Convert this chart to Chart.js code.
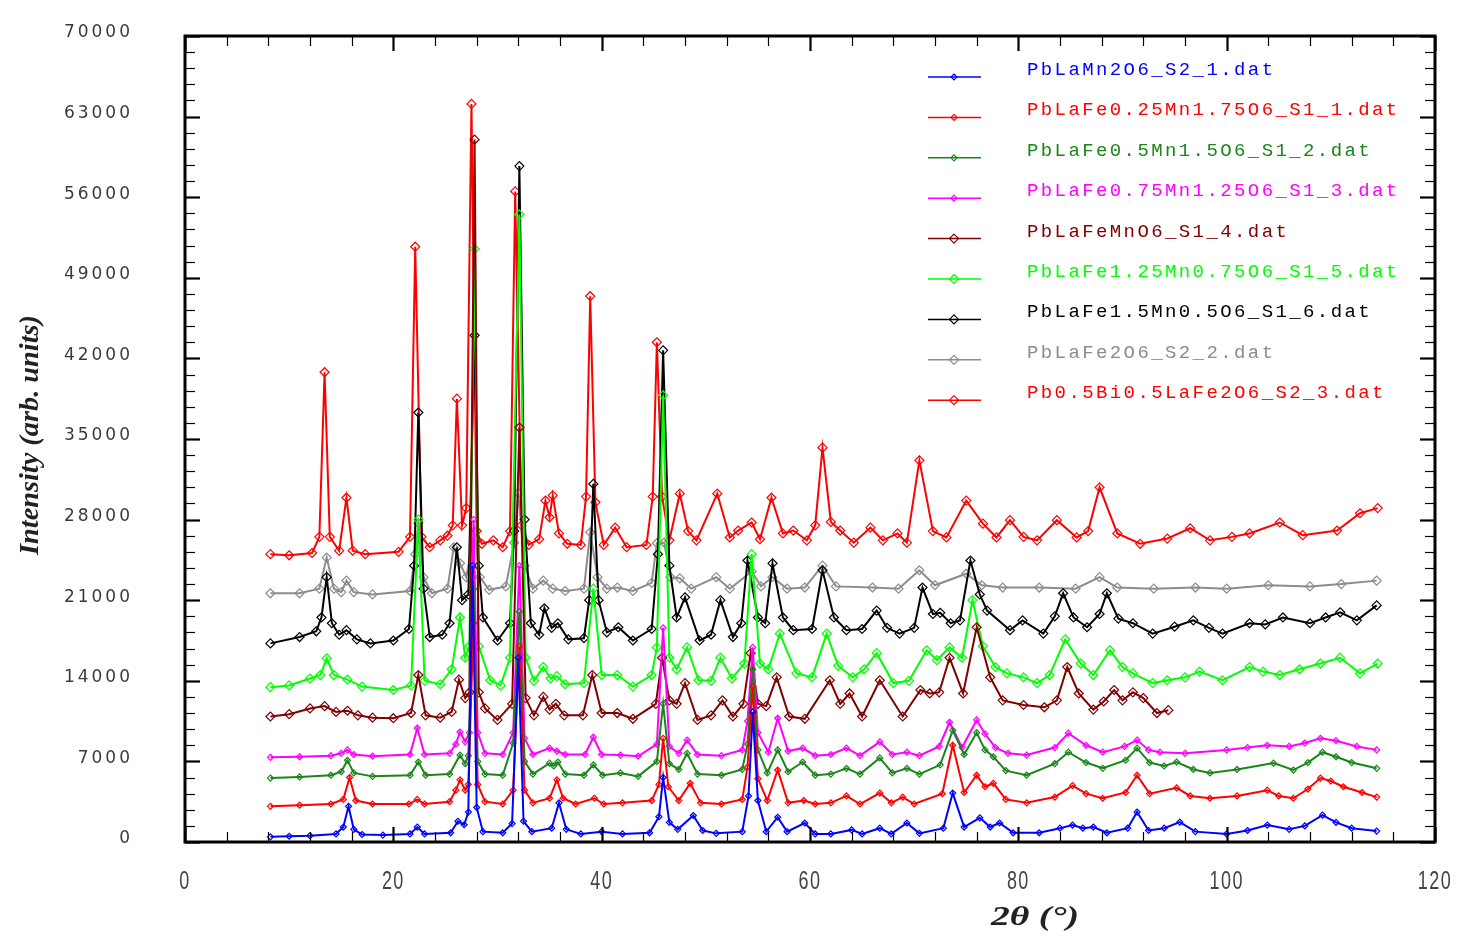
<!DOCTYPE html>
<html>
<head>
<meta charset="utf-8">
<script src="https://cdn.jsdelivr.net/npm/chart.js@4.4.1/dist/chart.umd.min.js"></script>
<style>
  html, body { margin: 0; padding: 0; background: #fff; }
  canvas { display: block; }
</style>
</head>
<body>
<canvas id="xrdChart" width="1459" height="944"></canvas>
<script>
// axis ticks
const xTicks = [0, 20, 40, 60, 80, 100, 120];
const yTicks = [0, 7000, 14000, 21000, 28000, 35000, 42000, 49000, 56000, 63000, 70000];

const seriesNames = [
    "PbLaMn2O6_S2_1.dat",
    "PbLaFe0.25Mn1.75O6_S1_1.dat",
    "PbLaFe0.5Mn1.5O6_S1_2.dat",
    "PbLaFe0.75Mn1.25O6_S1_3.dat",
    "PbLaFeMnO6_S1_4.dat",
    "PbLaFe1.25Mn0.75O6_S1_5.dat",
    "PbLaFe1.5Mn0.5O6_S1_6.dat",
    "PbLaFe2O6_S2_2.dat",
    "Pb0.5Bi0.5LaFe2O6_S2_3.dat"
];
const seriesColors = ["#0000ff", "#ff0000", "#1a861a", "#ff00ff", "#800000", "#00ff00", "#000000", "#8c8c8c", "#ff0000"];

// [2theta, intensity]
const mn2 = [[8.2,450],[10,500],[12,550],[14.5,700],[15.2,1300],[15.7,3100],[16.2,1100],[17,650],[19,600],[21.6,700],[22.3,1300],[23,700],[25.5,800],[26.2,1800],[26.8,1500],[27.2,2600],[27.6,24000],[28.0,3000],[28.6,900],[30.5,800],[31.4,1600],[32.0,16000],[32.5,1800],[33.3,900],[35.2,1200],[35.9,3400],[36.6,1100],[38,700],[40,900],[42,700],[44.6,800],[45.5,2200],[45.9,5600],[46.5,1700],[47.3,1100],[48.8,2300],[49.7,1000],[51,750],[53.5,900],[54.1,4000],[54.5,11300],[55.0,3600],[55.8,900],[56.9,2150],[57.8,900],[59.5,1650],[60.5,700],[62,700],[64.0,1050],[65,700],[66.7,1200],[67.8,700],[69.3,1650],[70.5,750],[72.8,1200],[73.7,4250],[74.8,1300],[76.3,2100],[77.3,1300],[78.2,1650],[79.5,800],[82,800],[84,1200],[85.2,1470],[86.2,1200],[87.2,1300],[88.5,800],[90.5,1200],[91.4,2600],[92.5,1000],[94,1200],[95.5,1730],[97,900],[100,700],[102,1000],[103.9,1470],[106,1100],[107.5,1400],[109.2,2340],[110.5,1700],[112,1200],[114.4,950]];

const fe025 = [[8.2,3100],[11,3200],[14,3300],[15.2,3700],[15.8,5600],[16.4,3600],[18,3300],[21.5,3300],[22.3,3700],[23,3300],[25.4,3500],[26.0,4500],[26.4,5400],[26.9,4500],[27.2,5000],[27.7,19000],[28.1,5000],[28.8,3500],[30.5,3300],[31.5,4500],[32.1,17000],[32.6,4500],[33.4,3400],[35.0,3800],[35.7,5400],[36.3,3800],[37.5,3300],[39.3,3800],[40.2,3300],[42,3400],[44.8,3600],[45.5,5000],[45.9,9000],[46.4,4800],[47.4,3600],[48.5,5100],[49.5,3400],[51.5,3300],[53.5,3700],[54.0,6500],[54.5,13500],[55.0,5500],[55.9,3600],[56.9,6250],[57.9,3400],[59.4,3600],[60.5,3300],[62,3400],[63.5,4000],[64.8,3300],[66.7,4250],[67.8,3400],[68.9,3900],[70,3300],[72.7,4200],[73.7,8400],[74.8,4300],[76.0,5800],[76.8,4800],[77.6,5100],[78.8,3700],[80.8,3400],[83.5,3900],[85.2,4900],[86.5,4200],[88.1,3800],[90.3,4300],[91.4,5800],[92.6,4200],[95.2,4700],[96.5,4000],[98.4,3800],[101,4000],[103.9,4500],[105,4000],[106.4,3800],[107.8,4600],[109,5550],[110,5300],[111.2,4800],[113,4300],[114.4,3900]];

const fe05 = [[8.2,5550],[11,5650],[14,5800],[15.0,6100],[15.6,7100],[16.2,6000],[18,5700],[21.6,5800],[22.4,6950],[23.1,5800],[25.4,5900],[26.4,7550],[26.9,6800],[27.2,7500],[27.7,22000],[28.1,7000],[28.8,5900],[30.5,5800],[31.5,8600],[32.1,20000],[32.6,7000],[33.4,5900],[35.0,6850],[35.4,6600],[35.8,6950],[36.5,5900],[38.3,5800],[39.2,6700],[40.1,5800],[41.8,6000],[43.5,5700],[45.3,7000],[45.9,12000],[46.5,6800],[47.4,6300],[48.2,7700],[49.2,5900],[51.5,5800],[53.5,6300],[54.0,8500],[54.5,15000],[55.0,8000],[55.9,6000],[56.9,8000],[57.9,6100],[59.3,6950],[60.5,5800],[62,5900],[63.5,6400],[64.8,5900],[66.7,7300],[67.9,6000],[69.3,6400],[70.5,5900],[72.5,6700],[73.7,9700],[74.8,7600],[76.0,9500],[76.8,8000],[77.6,7400],[78.8,6200],[80.8,5800],[83.5,6800],[84.8,7800],[86.5,6900],[88.1,6400],[90.3,7100],[91.4,8150],[92.6,6900],[94,6600],[95.2,6950],[96.8,6300],[98.4,6000],[101,6300],[104.5,6850],[106.4,6250],[107.8,6900],[109.2,7800],[110.5,7400],[112,6900],[114.4,6400]];

const fe075 = [[8.2,7350],[11,7400],[14,7500],[15.0,7700],[15.6,8000],[16.2,7600],[18,7450],[21.6,7600],[22.3,9900],[23.0,7600],[25.4,7700],[26.0,8500],[26.4,9550],[26.9,8700],[27.3,9500],[27.7,28000],[28.1,9500],[28.8,7700],[30.5,7600],[31.5,9500],[32.1,24000],[32.6,9000],[33.4,7600],[35.0,8150],[35.7,7900],[36.5,7600],[38.4,7600],[39.2,9100],[40.0,7600],[41.8,7550],[43.5,7450],[45.3,8500],[45.9,18600],[46.5,8300],[47.4,7700],[48.2,8850],[49.2,7600],[51.5,7500],[53.5,8000],[54.0,10500],[54.5,16900],[55.0,9500],[56.0,7800],[56.9,10750],[57.9,7900],[59.3,8150],[60.5,7500],[62,7600],[63.5,8150],[64.8,7500],[66.7,8700],[67.9,7600],[69.3,7800],[70.5,7500],[72.4,8300],[73.4,10400],[74.6,8200],[76.0,10600],[76.8,9400],[77.8,8200],[79,7700],[80.8,7550],[83.5,8200],[84.8,9450],[86.5,8400],[88.1,7800],[90.2,8300],[91.4,8850],[92.5,8000],[93.6,7800],[96,7700],[100,8000],[102,8200],[103.9,8400],[106,8300],[107.5,8600],[109,9000],[110.5,8800],[112.5,8300],[114.4,8000]];

const fe1 = [[8.2,10900],[10,11100],[12.0,11600],[13.4,11800],[14.5,11300],[15.6,11400],[16.6,11000],[18,10800],[20,10750],[21.7,11200],[22.4,14500],[23.1,11000],[24.5,10800],[25.6,11300],[26.3,14100],[26.9,12500],[27.3,13000],[27.8,61000],[28.2,13000],[28.8,11600],[30,10600],[31.4,12000],[32.1,36000],[32.7,12500],[33.5,11000],[34.4,12600],[35.0,11500],[35.6,12000],[36.4,11000],[38.2,11000],[39.1,14500],[40.0,11200],[41.5,11200],[43,10700],[45.2,12000],[45.8,16000],[46.5,12300],[47.2,12000],[48.0,13800],[49.2,10600],[50.5,11000],[51.6,12300],[52.6,10900],[53.6,12000],[54.3,16400],[55.0,12000],[55.8,11800],[56.8,14300],[58.0,10900],[59.5,10700],[61.9,14050],[62.9,12000],[63.8,12900],[65.0,10900],[66.7,14050],[68.9,10900],[70.6,13200],[71.5,12900],[72.4,13000],[73.4,16000],[74.7,12900],[76.0,18650],[77.3,14300],[78.5,12300],[80.5,11900],[82.5,11700],[83.7,12300],[84.7,15200],[85.8,12900],[87.2,11500],[88.2,12200],[89.2,13200],[90.0,12300],[91.0,13000],[92.0,12500],[93.3,11200],[94.4,11450]];

const fe125 = [[8.2,13450],[10,13600],[12,14200],[13.0,14500],[13.6,15950],[14.3,14500],[15.6,14100],[17,13500],[20,13200],[21.7,13600],[22.4,28000],[23.0,14000],[24.5,13700],[25.6,15000],[26.4,19500],[26.9,16000],[27.3,17000],[27.8,51500],[28.2,17000],[29.3,14050],[30.3,13600],[31.2,16000],[32.1,54500],[32.7,16000],[33.5,14000],[34.4,15200],[35.1,14200],[35.7,14400],[36.5,13700],[38.3,13800],[39.2,22000],[40.0,14500],[41.5,14500],[43,13500],[44.8,14500],[45.3,16900],[45.9,38800],[46.5,16000],[47.2,15000],[48.2,16900],[49.3,14050],[50.5,14000],[51.4,16000],[52.5,14200],[53.7,15500],[54.4,25000],[55.2,15500],[56.0,15000],[57.1,18100],[58.7,14650],[60.2,14300],[61.6,18100],[62.7,15300],[64.1,14300],[65.2,15000],[66.4,16400],[68.0,13800],[69.5,14000],[71.2,16650],[72.2,15800],[73.4,16900],[74.6,16000],[75.6,21000],[76.6,17000],[77.8,15200],[78.9,14650],[80.5,14300],[81.8,13800],[83,14500],[84.5,17600],[86.0,15500],[87.2,14500],[88.8,16650],[90.0,15200],[91.0,14650],[92.9,13800],[94.3,14050],[96,14300],[97.4,14800],[99.6,14050],[102.2,15200],[103.5,14800],[105.1,14500],[107,15000],[109,15500],[110.9,16000],[112.8,14650],[114.5,15500]];

const fe15 = [[8.2,17250],[11,17800],[12.6,18300],[13.1,19500],[13.6,23000],[14.1,19000],[14.8,18000],[15.5,18400],[16.5,17600],[17.8,17250],[20,17500],[21.5,18500],[22.0,24000],[22.4,37300],[22.9,22000],[23.5,17800],[24.7,18000],[25.4,19000],[26.1,25600],[26.6,21000],[27.2,21500],[27.8,44000],[28.2,24000],[28.6,19500],[30,17500],[31.2,19000],[31.6,27000],[32.1,58700],[32.6,28000],[33.2,19000],[34.0,18000],[34.5,20300],[35.2,18600],[35.8,19000],[36.8,17600],[38.3,17700],[38.8,21000],[39.2,31100],[39.7,21000],[40.5,18200],[41.6,18650],[43,17500],[44.8,18500],[45.4,25000],[45.9,42700],[46.5,24000],[47.2,19500],[48.0,21250],[49.4,17500],[50.5,18000],[51.4,21000],[52.6,17800],[53.4,19000],[54.0,24450],[55.0,19500],[55.7,19000],[56.4,24200],[57.4,19500],[58.4,18400],[60.2,18500],[61.2,23600],[62.3,19500],[63.5,18400],[65.0,18500],[66.4,20100],[67.4,18600],[68.6,18100],[70.0,18600],[70.8,22100],[71.8,19800],[72.5,19900],[73.5,19000],[74.4,19250],[75.4,24450],[76.3,21500],[77.0,20100],[79.2,18400],[80.4,19250],[82.4,18100],[83.5,19600],[84.3,21600],[85.3,19500],[86.6,18650],[87.8,19800],[88.5,21600],[89.6,19400],[91.0,19000],[92.9,18100],[95.0,18700],[96.8,19250],[98.3,18600],[99.6,18100],[102.2,19000],[103.7,18900],[105.4,19500],[108,19000],[109.5,19500],[110.9,19950],[112.5,19250],[114.4,20550]];

const fe2 = [[8.2,21600],[11,21600],[12.9,22000],[13.6,24700],[14.3,22000],[15.0,21700],[15.5,22700],[16.2,21700],[18,21500],[21.6,21800],[22.1,25000],[22.4,27700],[22.9,23000],[23.7,21600],[25.2,22000],[25.8,25600],[26.4,24200],[27.0,23000],[27.8,27000],[28.3,23000],[29.2,21900],[30.8,22200],[31.6,26000],[32.0,30300],[32.6,24000],[33.4,22000],[34.4,22700],[35.3,22000],[36.5,21800],[38.3,22000],[38.9,26900],[39.6,23000],[40.5,22000],[41.5,22100],[43,21800],[44.8,22500],[45.3,25950],[46.0,26000],[46.6,23000],[47.5,22900],[48.6,22000],[51.0,23000],[52.3,22000],[54.4,23500],[55.3,22200],[56.4,23000],[57.8,22000],[59.5,22100],[61.2,24000],[62.5,22200],[66.0,22100],[68.5,22000],[70.5,23600],[72.0,22300],[75.0,23300],[76.5,22300],[78.5,22100],[82,22100],[85.5,22000],[87.8,23000],[89.5,22100],[93,22000],[97,22100],[100,22000],[104,22300],[108,22200],[111,22400],[114.4,22700]];

const bi05 = [[8.2,25000],[10,24900],[12.2,25100],[12.9,26500],[13.4,40800],[13.9,26500],[14.8,25300],[15.5,29900],[16.1,25300],[17.3,25000],[20.5,25200],[21.6,26500],[22.1,51700],[22.7,26500],[23.5,25600],[24.5,26200],[25.2,26600],[25.7,27500],[26.1,38500],[26.6,27500],[27.0,29000],[27.5,64100],[28.0,27000],[28.5,25900],[29.6,26200],[30.5,25600],[31.2,27000],[31.7,56500],[32.3,27500],[33.0,25800],[34.0,26300],[34.6,29650],[35.0,28200],[35.3,30100],[35.9,26800],[36.7,25900],[38.0,25800],[38.5,30000],[38.9,47400],[39.4,29500],[40.2,25800],[41.3,27300],[42.4,25600],[44.3,25800],[44.9,30000],[45.3,43400],[45.8,30000],[46.5,26200],[47.5,30250],[48.3,27000],[49.1,26200],[51.1,30250],[52.3,26450],[53.1,27050],[54.4,27750],[55.2,26300],[56.3,29900],[57.4,26800],[58.4,27050],[59.7,26200],[60.5,27500],[61.2,34250],[62.0,27800],[62.9,27050],[64.2,26000],[65.8,27300],[67.0,26200],[68.4,26800],[69.3,26000],[70.5,33150],[71.8,27000],[73.1,26450],[75.0,29650],[76.6,27650],[77.9,26450],[79.2,27950],[80.5,26500],[81.8,26200],[83.7,27950],[85.6,26450],[86.7,27000],[87.8,30800],[89.5,26800],[91.7,25900],[94.3,26350],[96.5,27250],[98.4,26200],[100.5,26500],[102.2,26800],[105.1,27750],[107.3,26650],[110.6,27050],[112.8,28550],[114.5,29000]];

const allSeries = [mn2, fe025, fe05, fe075, fe1, fe125, fe15, fe2, bi05];

// draw text squeezed/stretched horizontally
function drawText(ctx, text, x, y, opts) {
    ctx.save();
    ctx.font = opts.font;
    ctx.fillStyle = opts.color || '#000';
    ctx.letterSpacing = opts.spacing || '0px';
    ctx.textBaseline = 'middle';
    ctx.textAlign = 'left';
    let w = ctx.measureText(text).width;
    let sx = opts.scaleX || 1;
    if (opts.width) sx = opts.width / w;
    ctx.translate(x, y);
    if (opts.rotate) ctx.rotate(opts.rotate);
    ctx.scale(sx, 1);
    let dx = 0;
    if (opts.align === 'center') dx = -w / 2;
    if (opts.align === 'right') dx = -w;
    ctx.fillText(text, dx, 0);
    ctx.restore();
}

const framePlugin = {
    id: 'framePlugin',
    afterDraw(chart) {
        const { ctx, chartArea: a, scales: { x, y } } = chart;
        ctx.save();
        ctx.strokeStyle = '#000';

        const seg = (x1, y1, x2, y2) => { ctx.beginPath(); ctx.moveTo(x1, y1); ctx.lineTo(x2, y2); ctx.stroke(); };

        // y ticks, major every 7000, minor every 1400
        for (let v = 0; v <= 70000; v += 1400) {
            const py = Math.round(y.getPixelForValue(v)) + 0.5;
            const major = v % 7000 === 0;
            const len = major ? 15 : 10;
            ctx.lineWidth = major ? 2.2 : 1.2;
            seg(a.left, py, a.left + len, py);
            seg(a.right, py, a.right - len, py);
        }
        // x ticks, major every 20, minor every 4
        for (let v = 0; v <= 120; v += 4) {
            const px = Math.round(x.getPixelForValue(v)) + 0.5;
            const major = v % 20 === 0;
            const len = major ? 15 : 10;
            ctx.lineWidth = major ? 2.2 : 1.2;
            seg(px, a.bottom, px, a.bottom - len);
            seg(px, a.top, px, a.top + len);
        }
        ctx.lineWidth = 3;
        ctx.strokeRect(a.left, a.top, a.right - a.left, a.bottom - a.top);

        // tick labels
        yTicks.forEach(v => {
            drawText(ctx, String(v), 133, y.getPixelForValue(v) - 3, {
                font: '17px "DejaVu Sans"', color: '#3a3a3a', spacing: '3px', align: 'right'
            });
        });
        xTicks.forEach(v => {
            drawText(ctx, String(v), x.getPixelForValue(v), 882, {
                font: '25px "Liberation Sans"', color: '#444', scaleX: 0.72, spacing: '2px', align: 'center'
            });
        });

        // axis titles
        drawText(ctx, 'Intensity (arb. units)', 31, 435, {
            font: 'italic bold 27px "Liberation Serif"', color: '#222', width: 240, align: 'center', rotate: -Math.PI / 2
        });
        drawText(ctx, '2\u03b8 (\u00b0)', 1035, 918, {
            font: 'italic bold 28px "Liberation Serif"', color: '#222', width: 88, align: 'center'
        });

        // legend inside plot
        seriesNames.forEach((name, i) => {
            const ly = 77 + i * 40.4;
            const col = seriesColors[i];
            ctx.strokeStyle = col;
            ctx.lineWidth = 1.5;
            seg(928, ly, 981, ly);
            const r = i < 4 ? 3 : 4.5;
            ctx.lineWidth = 1.2;
            ctx.beginPath();
            ctx.moveTo(954, ly - r); ctx.lineTo(954 + r, ly); ctx.lineTo(954, ly + r); ctx.lineTo(954 - r, ly); ctx.closePath();
            ctx.stroke();
            drawText(ctx, name, 1027, ly - 7, {
                font: '19px "Liberation Mono"', color: col, spacing: '2.4px'
            });
        });
        ctx.restore();
    }
};

const datasets = allSeries.map((s, i) => ({
    label: seriesNames[i],
    data: s.map(p => ({ x: p[0], y: p[1] })),
    showLine: true,
    borderColor: seriesColors[i],
    borderWidth: 2,
    pointStyle: 'rectRot',
    pointRadius: i < 4 ? 3 : 4.5,
    pointBorderWidth: 1.2,
    pointBorderColor: seriesColors[i],
    pointBackgroundColor: 'rgba(0,0,0,0)',
    tension: 0
}));

new Chart(document.getElementById('xrdChart').getContext('2d'), {
    type: 'scatter',
    data: { datasets },
    options: {
        responsive: false,
        animation: false,
        devicePixelRatio: 1,
        layout: { padding: { left: 185, top: 36, right: 24, bottom: 102 } },
        scales: {
            x: { type: 'linear', min: 0, max: 120, display: false },
            y: { type: 'linear', min: 0, max: 70000, display: false }
        },
        plugins: { legend: { display: false }, tooltip: { enabled: false } }
    },
    plugins: [framePlugin]
});
</script>
</body>
</html>
